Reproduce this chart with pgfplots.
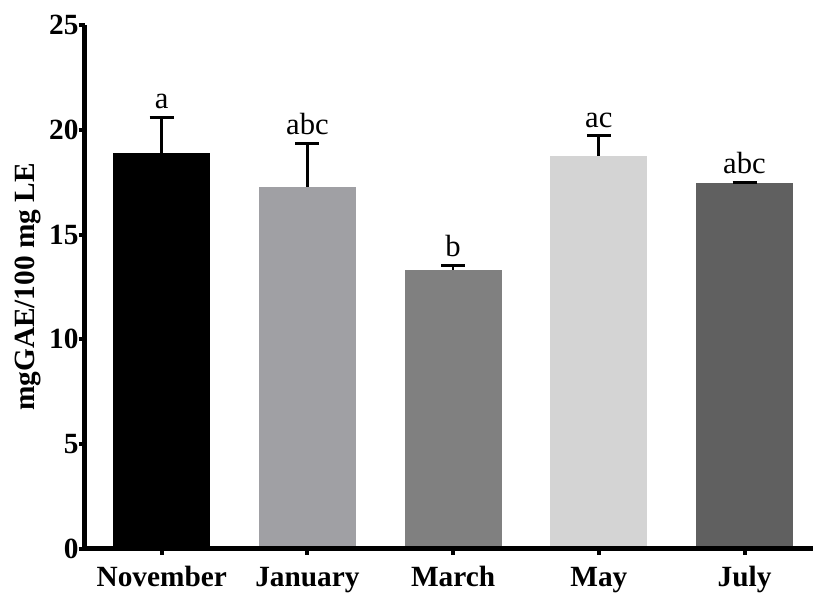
\documentclass[border=0pt]{standalone}
\usepackage{pgfplots}
\pgfplotsset{compat=1.18}
\usepackage{fontspec}
\setmainfont{Liberation Serif}
\definecolor{cNov}{RGB}{0,0,0}
\definecolor{cJan}{RGB}{160,160,164}
\definecolor{cMar}{RGB}{128,128,128}
\definecolor{cMay}{RGB}{212,212,212}
\definecolor{cJul}{RGB}{96,96,96}
\begin{document}
\begin{tikzpicture}
\useasboundingbox (-63.4pt,-33pt) rectangle (546.4pt,411.75pt);
\begin{axis}[
  at={(0,0)}, anchor=south west, scale only axis,
  width=546.4pt, height=393pt,
  xmin=-0.53, xmax=4.47, ymin=0, ymax=25,
  axis x line=bottom, axis y line=left,
  axis line style={line width=3.75pt, -},
  axis on top=true,
  xtick={0,1,2,3,4}, xticklabels={November,January,March,May,July},
  ytick={0,5,10,15,20,25},
  tick align=outside,
  major tick length=4.5pt,
  every tick/.style={black, line width=3pt},
  /pgf/number format/assume math mode=true,
  ticklabel style={font=\fontsize{22}{24}\selectfont\bfseries},
  xticklabel style={text height=0.7em, text depth=0.22em, yshift=-13.25pt},
  yticklabel style={xshift=3.5pt},
  ylabel={mgGAE/100 mg LE},
  every axis y label/.style={at={(axis description cs:-0.054,0.5)}, rotate=90, anchor=south,
    font=\fontsize{22}{24}\selectfont\bfseries},
  clip=false,
  error bars/error bar style={line width=2pt, black},
  error bars/error mark options={rotate=90, mark size=9pt, line width=2pt, black},
]
\addplot[ybar, bar width=0.665, fill=cNov, draw=none, error bars/.cd, y dir=plus, y explicit]
  coordinates {(0,18.9) +- (0,1.7)};
\addplot[ybar, bar width=0.665, fill=cJan, draw=none, error bars/.cd, y dir=plus, y explicit]
  coordinates {(1,17.28) +- (0,2.08)};
\addplot[ybar, bar width=0.665, fill=cMar, draw=none, error bars/.cd, y dir=plus, y explicit]
  coordinates {(2,13.33) +- (0,0.2)};
\addplot[ybar, bar width=0.665, fill=cMay, draw=none, error bars/.cd, y dir=plus, y explicit]
  coordinates {(3,18.75) +- (0,0.97)};
\addplot[ybar, bar width=0.665, fill=cJul, draw=none, error bars/.cd, y dir=plus, y explicit]
  coordinates {(4,17.44) +- (0,0.05)};
\addplot[only marks, mark=none, forget plot, nodes near coords, point meta=explicit symbolic,
  nodes near coords style={black, font=\fontsize{23}{25}\selectfont, anchor=south, inner sep=0pt, yshift=6pt}]
  coordinates {(0,20.6)[a] (1,19.36)[abc] (2,13.53)[b] (3,19.72)[ac] (4,17.49)[abc]};
\end{axis}
\end{tikzpicture}
\end{document}
